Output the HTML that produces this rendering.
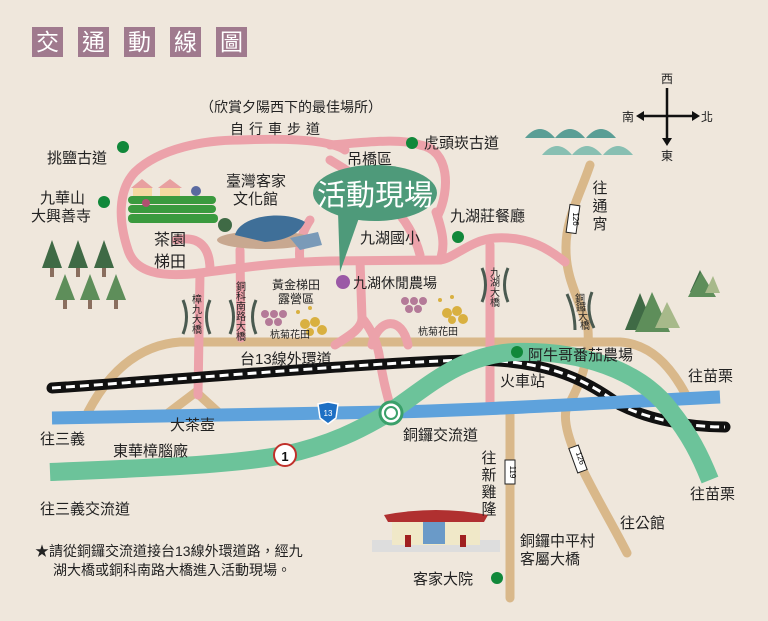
<!DOCTYPE html>
<html><head><meta charset="utf-8"><style>
html,body{margin:0;padding:0;background:#efe7dc;}
svg{display:block;font-family:"Liberation Sans","Noto Sans CJK TC",sans-serif;}
.t{font-size:15px;fill:#222;}
.s{font-size:10px;fill:#222;}
</style></head><body>
<svg width="768" height="621" viewBox="0 0 768 621" xmlns="http://www.w3.org/2000/svg">
<rect width="768" height="621" fill="#efe7dc"/>
<g fill="#a07a8e"><rect x="32" y="27" width="31" height="30"/><rect x="78" y="27" width="31" height="30"/><rect x="124" y="27" width="31" height="30"/><rect x="170" y="27" width="31" height="30"/><rect x="216" y="27" width="31" height="30"/></g>
<g fill="#fff" font-size="23" text-anchor="middle"><text x="47.5" y="50">交</text><text x="93.5" y="50">通</text><text x="139.5" y="50">動</text><text x="185.5" y="50">線</text><text x="231.5" y="50">圖</text></g>
<g stroke="#111" stroke-width="2.5"><line x1="667" y1="88" x2="667" y2="140"/><line x1="642" y1="116" x2="694" y2="116"/></g>
<g fill="#111"><polygon points="662,138 672,138 667,146"/><polygon points="644,111 644,121 636,116"/><polygon points="692,111 692,121 700,116"/></g>
<g class="t" text-anchor="middle"><text x="667" y="83" font-size="12">西</text><text x="667" y="160" font-size="12">東</text><text x="628" y="121" font-size="12">南</text><text x="707" y="121" font-size="12">北</text></g>
<g fill="none" stroke="#d9b88a" stroke-width="9" stroke-linecap="round">
<path d="M88,412 C110,370 140,345 180,342 L620,342 C650,344 670,365 686,395"/>
<path d="M167,414 L196,392 L220,414"/>
<path d="M590,165 C580,195 565,220 566,250 C566,280 580,300 588,330 C590,360 580,385 566,410 C560,440 600,500 627,553"/>
<path d="M510,412 L510,598"/>
</g>
<g fill="none" stroke="#eca2aa" stroke-width="9" stroke-linecap="round">
<path d="M200,273 C160,278 135,272 128,250 C118,220 118,190 135,172 C160,148 205,140 240,140 C290,138 330,140 345,150"/>
<path d="M330,145 C370,142 400,138 420,145 C450,150 450,190 438,215"/>
<path d="M200,273 C240,268 280,262 330,261 L440,260 C455,258 470,240 495,238 C530,236 550,250 565,262"/>
<path d="M200,273 L198,395"/>
<path d="M240,250 L241,338"/>
<path d="M176,240 C200,235 210,248 210,270"/>
<path d="M360,261 L362,318 C362,330 345,338 335,345"/>
<path d="M362,318 C372,330 378,345 380,360 C383,380 387,395 390,405"/>
<path d="M372,345 C378,318 402,315 408,345"/>
<path d="M490,245 L490,405"/>
<path d="M330,160 C380,190 410,215 420,255"/>
<path d="M440,260 C446,245 442,230 436,212"/>
<path d="M300,261 C298,245 302,232 310,220"/>
</g>
<path d="M52,388 C200,378 380,362 470,360 C540,360 580,375 620,405 C650,420 690,427 725,427" fill="none" stroke="#111" stroke-width="11" stroke-linecap="round"/>
<path d="M52,388 C200,378 380,362 470,360 C540,360 580,375 620,405 C650,420 690,427 725,427" fill="none" stroke="#fff" stroke-width="3" stroke-dasharray="9,5"/>
<path d="M52,418 C200,416 320,414 390,412 C480,410 560,405 720,397" fill="none" stroke="#5ea2dc" stroke-width="13"/>
<path d="M50,472 C150,468 230,465 284,455 C330,445 360,430 390,412 C430,385 460,355 515,352 C580,350 640,370 670,410 C690,435 700,455 710,480" fill="none" stroke="#6cc39a" stroke-width="18"/>
<circle cx="391" cy="413" r="11" fill="#fff" stroke="#3aa06a" stroke-width="3"/><circle cx="391" cy="413" r="6" fill="none" stroke="#3aa06a" stroke-width="2"/>
<path d="M328,402 L338,404 L336,418 L328,424 L320,418 L318,404 Z" fill="#1d6fc4" stroke="#fff" stroke-width="1.5"/>
<text x="328" y="416" font-size="8" fill="#fff" text-anchor="middle">13</text>
<circle cx="285" cy="455" r="11" fill="#fff" stroke="#c0302a" stroke-width="2"/>
<text x="285" y="461" font-size="13" font-weight="bold" fill="#111" text-anchor="middle">1</text>
<rect x="568" y="205" width="10" height="28" fill="#fff" stroke="#222" transform="rotate(8 573 219)"/><text x="573" y="219" font-size="8" text-anchor="middle" transform="rotate(90 573 219)">126</text>
<rect x="573" y="446" width="10" height="26" fill="#fff" stroke="#222" transform="rotate(-20 578 459)"/><text x="578" y="459" font-size="8" text-anchor="middle" transform="rotate(70 578 459)">126</text>
<rect x="505" y="460" width="10" height="24" fill="#fff" stroke="#222"/><text x="510" y="472" font-size="8" text-anchor="middle" transform="rotate(90 510 472)">119</text>
<g fill="#5a9e95"><path d="M525,138 Q540,120 555,138Z"/><path d="M555,138 Q570,120 585,138Z"/><path d="M586,138 Q601,120 616,138Z"/></g>
<g fill="#88bfb2"><path d="M542,155 Q557,137 572,155Z"/><path d="M572,155 Q587,137 602,155Z"/><path d="M603,155 Q618,137 633,155Z"/></g>
<g fill="#3f6a45"><polygon points="52,240 42,268 62,268"/><polygon points="78,240 68,268 88,268"/><polygon points="104,240 94,268 114,268"/></g>
<g fill="#5e8e5a"><polygon points="65,274 55,300 75,300"/><polygon points="90,274 80,300 100,300"/><polygon points="116,274 106,300 126,300"/></g>
<g fill="#8a6e5e"><rect x="50" y="268" width="4" height="9"/><rect x="76" y="268" width="4" height="9"/><rect x="102" y="268" width="4" height="9"/><rect x="63" y="300" width="4" height="9"/><rect x="88" y="300" width="4" height="9"/><rect x="114" y="300" width="4" height="9"/></g>
<polygon points="700,270 690,292 710,292" fill="#3f6a45"/><polygon points="701,272 688,297 716,297" fill="#5e8e5a"/><polygon points="713,276 705,293 720,293" fill="#a7b98a"/>
<polygon points="640,293 625,330 655,330" fill="#3f6a45"/><polygon points="652,292 635,332 670,332" fill="#5e8e5a"/><polygon points="667,302 655,328 680,328" fill="#a7b98a"/>
<g fill="#3a9a3e"><rect x="128" y="196" width="88" height="8" rx="4"/><rect x="128" y="205" width="88" height="8" rx="4"/><rect x="128" y="214" width="90" height="9" rx="4"/></g>
<polygon points="133,187 142,180 152,187 152,196 133,196" fill="#f3d9a0"/><polygon points="131,188 142,179 153,188" fill="#e8a0a0"/>
<polygon points="160,187 170,180 180,187 180,196 160,196" fill="#f3d9a0"/><polygon points="158,188 170,179 182,188" fill="#e8a0a0"/>
<circle cx="196" cy="191" r="5" fill="#5a6aa0"/><circle cx="146" cy="203" r="4" fill="#b05070"/>
<ellipse cx="265" cy="240" rx="48" ry="9" fill="#c8a890"/>
<path d="M235,235 C240,215 285,210 305,222 C300,232 290,240 265,242 Z" fill="#3f6f98"/>
<path d="M290,238 L318,232 L322,245 L300,250Z" fill="#7a9ab8"/>
<circle cx="225" cy="225" r="7" fill="#3f6a45"/>
<ellipse cx="375" cy="193" rx="62" ry="28" fill="#4e9a7a"/>
<polygon points="338,212 360,215 340,272" fill="#4e9a7a"/>
<text x="375" y="205" font-size="29" fill="#fff" text-anchor="middle">活動現場</text>
<circle cx="343" cy="282" r="7" fill="#9b59a6"/>
<g fill="#b47a98"><circle cx="265" cy="314" r="4"/><circle cx="274" cy="314" r="4"/><circle cx="283" cy="314" r="4"/><circle cx="269" cy="322" r="4"/><circle cx="278" cy="322" r="4"/><circle cx="405" cy="301" r="4"/><circle cx="414" cy="301" r="4"/><circle cx="423" cy="301" r="4"/><circle cx="409" cy="309" r="4"/><circle cx="418" cy="309" r="4"/></g>
<g fill="#d9b040"><circle cx="305" cy="324" r="5"/><circle cx="315" cy="322" r="5"/><circle cx="322" cy="330" r="5"/><circle cx="310" cy="332" r="4"/><circle cx="447" cy="313" r="5"/><circle cx="457" cy="311" r="5"/><circle cx="463" cy="319" r="5"/><circle cx="452" cy="320" r="4"/><circle cx="298" cy="312" r="2"/><circle cx="310" cy="308" r="2"/><circle cx="440" cy="300" r="2"/><circle cx="452" cy="297" r="2"/></g>
<g fill="none" stroke="#4a5a50" stroke-width="3">
<path d="M183,300 Q190,317 183,334"/><path d="M210,300 Q203,317 210,334"/>
<path d="M230,300 Q237,317 230,334"/><path d="M256,300 Q249,317 256,334"/>
<path d="M482,268 Q489,285 482,302"/><path d="M508,268 Q501,285 508,302"/>
<path d="M567,294 Q575,312 575,330"/><path d="M592,292 Q585,310 594,328"/>
</g>
<g class="s" font-size="9" text-anchor="middle"><text x="197" y="303">樟</text><text x="197" y="313">九</text><text x="197" y="323">大</text><text x="197" y="333">橋</text>
<text x="241" y="290">銅</text><text x="241" y="300">科</text><text x="241" y="310">南</text><text x="241" y="320">路</text><text x="241" y="330">大</text><text x="241" y="340">橋</text>
<text x="495" y="276">九</text><text x="495" y="286">湖</text><text x="495" y="296">大</text><text x="495" y="306">橋</text>
<text x="580" y="302">銅</text><text x="581" y="311">鑼</text><text x="583" y="320">大</text><text x="585" y="329">橋</text></g>
<rect x="372" y="540" width="128" height="12" fill="#ddd"/>
<rect x="392" y="520" width="88" height="25" fill="#f0e8c8"/>
<path d="M384,515 Q436,505 488,515 L484,522 L388,522Z" fill="#b03030"/>
<rect x="423" y="522" width="22" height="22" fill="#6a9ac8"/>
<rect x="405" y="535" width="6" height="12" fill="#a02020"/><rect x="460" y="535" width="6" height="12" fill="#a02020"/>
<g fill="#11883a"><circle cx="123" cy="147" r="6"/><circle cx="104" cy="202" r="6"/><circle cx="412" cy="143" r="6"/><circle cx="458" cy="237" r="6"/><circle cx="517" cy="352" r="6"/><circle cx="497" cy="578" r="6"/></g>
<g class="t">
<text x="200" y="112" font-size="14">（欣賞夕陽西下的最佳場所）</text>
<text x="230" y="134" font-size="14" letter-spacing="5">自行車步道</text>
<text x="47" y="163">挑鹽古道</text>
<text x="40" y="203">九華山</text><text x="31" y="221">大興善寺</text>
<text x="226" y="186">臺灣客家</text><text x="233" y="204">文化館</text>
<text x="154" y="245" font-size="16">茶園</text><text x="154" y="267" font-size="16">梯田</text>
<text x="347" y="164">吊橋區</text>
<text x="424" y="148">虎頭崁古道</text>
<text x="450" y="221">九湖莊餐廳</text>
<text x="360" y="243">九湖國小</text>
<text x="353" y="288" font-size="14">九湖休閒農場</text>
<text x="272" y="289" font-size="12">黃金梯田</text><text x="278" y="303" font-size="12">露營區</text>
<text x="270" y="338" font-size="10">杭菊花田</text><text x="418" y="335" font-size="10">杭菊花田</text>
<text x="240" y="364">台13線外環道</text>
<text x="528" y="360">阿牛哥番茄農場</text>
<text x="500" y="386">火車站</text>
<text x="688" y="381">往苗栗</text>
<text x="690" y="499">往苗栗</text>
<text x="40" y="444">往三義</text>
<text x="170" y="430">大茶壺</text>
<text x="113" y="456">東華樟腦廠</text>
<text x="403" y="440">銅鑼交流道</text>
<text x="40" y="514">往三義交流道</text>
<text x="620" y="528">往公館</text>
<text x="520" y="546">銅鑼中平村</text><text x="520" y="564">客屬大橋</text>
<text x="413" y="584">客家大院</text>
<text x="35" y="556" font-size="14">★請從銅鑼交流道接台13線外環道路，經九</text>
<text x="53" y="575" font-size="14">湖大橋或銅科南路大橋進入活動現場。</text>
</g>
<g class="t" text-anchor="middle"><text x="489" y="463">往</text><text x="489" y="480">新</text><text x="489" y="497">雞</text><text x="489" y="514">隆</text>
<text x="600" y="193">往</text><text x="600" y="211">通</text><text x="600" y="229">宵</text></g>
</svg>
</body></html>
